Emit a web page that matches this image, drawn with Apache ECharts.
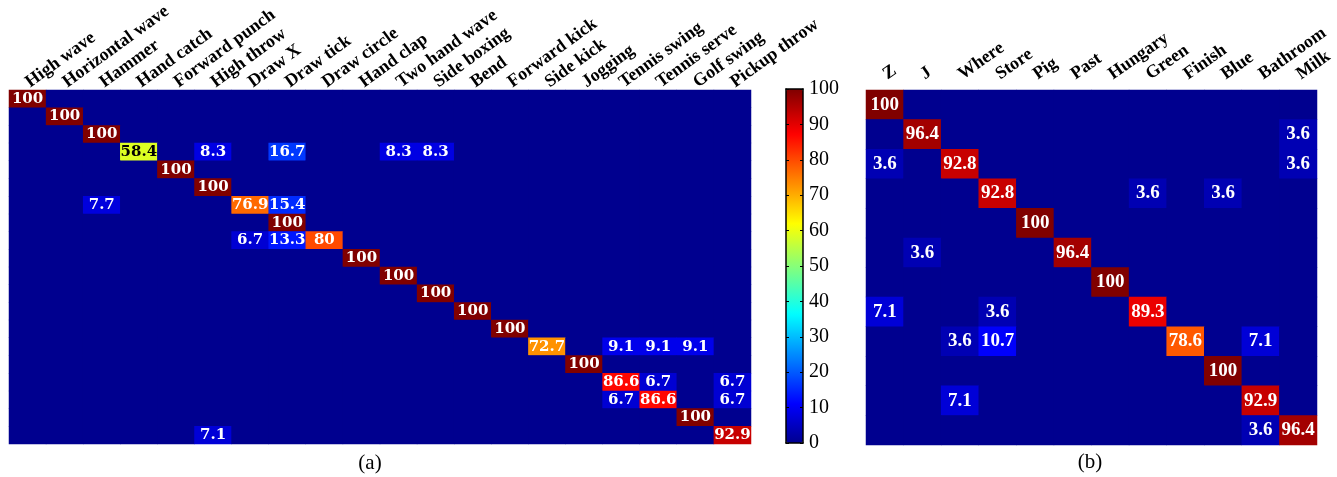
<!DOCTYPE html>
<html>
<head>
<meta charset="utf-8">
<script src="https://cdn.jsdelivr.net/npm/echarts@6/dist/echarts.min.js"></script>
<style>html,body{margin:0;padding:0;background:#fff;}#main{width:1337px;height:477px;}</style>
</head>
<body>
<div id="main"></div>
<script>
// ---- data ----
const actionsA = ['High wave','Horizontal wave','Hammer','Hand catch','Forward punch','High throw','Draw X','Draw tick','Draw circle','Hand clap','Two hand wave','Side boxing','Bend','Forward kick','Side kick','Jogging','Tennis swing','Tennis serve','Golf swing','Pickup throw'];
// rows = true class, columns = predicted class (percent)
const matrixA = [
  [100,0,0,0,0,0,0,0,0,0,0,0,0,0,0,0,0,0,0,0],
  [0,100,0,0,0,0,0,0,0,0,0,0,0,0,0,0,0,0,0,0],
  [0,0,100,0,0,0,0,0,0,0,0,0,0,0,0,0,0,0,0,0],
  [0,0,0,58.4,0,8.3,0,16.7,0,0,8.3,8.3,0,0,0,0,0,0,0,0],
  [0,0,0,0,100,0,0,0,0,0,0,0,0,0,0,0,0,0,0,0],
  [0,0,0,0,0,100,0,0,0,0,0,0,0,0,0,0,0,0,0,0],
  [0,0,7.7,0,0,0,76.9,15.4,0,0,0,0,0,0,0,0,0,0,0,0],
  [0,0,0,0,0,0,0,100,0,0,0,0,0,0,0,0,0,0,0,0],
  [0,0,0,0,0,0,6.7,13.3,80,0,0,0,0,0,0,0,0,0,0,0],
  [0,0,0,0,0,0,0,0,0,100,0,0,0,0,0,0,0,0,0,0],
  [0,0,0,0,0,0,0,0,0,0,100,0,0,0,0,0,0,0,0,0],
  [0,0,0,0,0,0,0,0,0,0,0,100,0,0,0,0,0,0,0,0],
  [0,0,0,0,0,0,0,0,0,0,0,0,100,0,0,0,0,0,0,0],
  [0,0,0,0,0,0,0,0,0,0,0,0,0,100,0,0,0,0,0,0],
  [0,0,0,0,0,0,0,0,0,0,0,0,0,0,72.7,0,9.1,9.1,9.1,0],
  [0,0,0,0,0,0,0,0,0,0,0,0,0,0,0,100,0,0,0,0],
  [0,0,0,0,0,0,0,0,0,0,0,0,0,0,0,0,86.6,6.7,0,6.7],
  [0,0,0,0,0,0,0,0,0,0,0,0,0,0,0,0,6.7,86.6,0,6.7],
  [0,0,0,0,0,0,0,0,0,0,0,0,0,0,0,0,0,0,100,0],
  [0,0,0,0,0,7.1,0,0,0,0,0,0,0,0,0,0,0,0,0,92.9]
];
const wordsB = ['Z','J','Where','Store','Pig','Past','Hungary','Green','Finish','Blue','Bathroom','Milk'];
const matrixB = [
  [100,0,0,0,0,0,0,0,0,0,0,0],
  [0,96.4,0,0,0,0,0,0,0,0,0,3.6],
  [3.6,0,92.8,0,0,0,0,0,0,0,0,3.6],
  [0,0,0,92.8,0,0,0,3.6,0,3.6,0,0],
  [0,0,0,0,100,0,0,0,0,0,0,0],
  [0,3.6,0,0,0,96.4,0,0,0,0,0,0],
  [0,0,0,0,0,0,100,0,0,0,0,0],
  [7.1,0,0,3.6,0,0,0,89.3,0,0,0,0],
  [0,0,3.6,10.7,0,0,0,0,78.6,0,7.1,0],
  [0,0,0,0,0,0,0,0,0,100,0,0],
  [0,0,7.1,0,0,0,0,0,0,0,92.9,0],
  [0,0,0,0,0,0,0,0,0,0,3.6,96.4]
];
const colorbarTicks = [0,10,20,30,40,50,60,70,80,90,100];
const captions = ['(a)','(b)'];

// ---- MATLAB jet(64) colormap ----
function jet(m){
  const n = Math.ceil(m/4), u = [];
  for (let i=1;i<=n;i++) u.push(i/n);
  for (let i=1;i<n;i++) u.push(1);
  for (let i=n;i>=1;i--) u.push(i/n);
  const off = Math.ceil(n/2) - (m%4===1?1:0);
  const c = []; for (let i=0;i<m;i++) c.push([0,0,0]);
  u.forEach((v,k)=>{
    const g = off+k+1, r = g+n, b = g-n;
    if (g>=1&&g<=m) c[g-1][1]=v;
    if (r>=1&&r<=m) c[r-1][0]=v;
    if (b>=1&&b<=m) c[b-1][2]=v;
  });
  return c.map(a=>'#'+a.map(x=>Math.round(x*255).toString(16).padStart(2,'0')).join(''));
}
const jetColors = jet(64);

function toData(mat){
  const out = [];
  mat.forEach((row,y)=>row.forEach((v,x)=>{
    out.push({value:[x,y,v], label:{color:(v>=45&&v<=66)?'#000':'#fff'}});
  }));
  return out;
}

const serif = 'Liberation Serif';
const chart = echarts.init(document.getElementById('main'), null, {renderer:'canvas'});

chart.setOption({
  animation:false,
  backgroundColor:'#fff',
  grid:[
    {left:9, top:90, width:742, height:354, show:true, backgroundColor:jetColors[0], borderWidth:0, containLabel:false, outerBoundsMode:'none'},
    {left:866, top:90, width:451, height:355, show:true, backgroundColor:jetColors[0], borderWidth:0, containLabel:false, outerBoundsMode:'none'},
    {left:786, top:89, width:17, height:354, containLabel:false, outerBoundsMode:'none'}
  ],
  xAxis:[
    {type:'category', gridIndex:0, position:'top', data:actionsA,
      axisLabel:{interval:0, rotate:-36, margin:6, fontFamily:serif, fontWeight:'bold', fontSize:18, color:'#000'},
      axisLine:{show:false}, axisTick:{show:false}, splitLine:{show:false}},
    {type:'category', gridIndex:1, position:'top', data:wordsB,
      axisLabel:{interval:0, rotate:-35, margin:14, fontFamily:serif, fontWeight:'bold', fontSize:18, color:'#000'},
      axisLine:{show:false}, axisTick:{show:false}, splitLine:{show:false}},
    {type:'value', gridIndex:2, min:0, max:1, position:'bottom', z:10, axisLine:{show:true, onZero:false, lineStyle:{color:'#000', width:1.5}}, axisTick:{show:false}, axisLabel:{show:false}, splitLine:{show:false}},
    {type:'value', gridIndex:2, min:0, max:1, position:'top', z:10, axisLine:{show:true, onZero:false, lineStyle:{color:'#000', width:1.5}}, axisTick:{show:false}, axisLabel:{show:false}, splitLine:{show:false}}
  ],
  yAxis:[
    {type:'category', gridIndex:0, data:actionsA, inverse:true, axisLabel:{show:false}, axisLine:{show:false}, axisTick:{show:false}, splitLine:{show:false}},
    {type:'category', gridIndex:1, data:wordsB, inverse:true, axisLabel:{show:false}, axisLine:{show:false}, axisTick:{show:false}, splitLine:{show:false}},
    {type:'value', gridIndex:2, min:colorbarTicks[0], max:colorbarTicks[colorbarTicks.length-1], interval:10, position:'right', z:10,
      axisLine:{show:true, onZero:false, lineStyle:{color:'#000', width:1.5}},
      axisTick:{show:true, inside:true, length:3, lineStyle:{color:'#000'}},
      axisLabel:{show:true, margin:6, fontFamily:serif, fontSize:20, color:'#000'}, splitLine:{show:false}},
    {type:'value', gridIndex:2, min:colorbarTicks[0], max:colorbarTicks[colorbarTicks.length-1], interval:10, position:'left', z:10,
      axisLine:{show:true, onZero:false, lineStyle:{color:'#000', width:1.5}},
      axisTick:{show:true, inside:true, length:3, lineStyle:{color:'#000'}},
      axisLabel:{show:false}, splitLine:{show:false}}
  ],
  visualMap:{
    type:'continuous', min:0, max:100, seriesIndex:[0,1], calculable:false, hoverLink:false,
    orient:'vertical', left:786, top:89, itemWidth:17, itemHeight:354, padding:0,
    text:null, showLabel:false, inRange:{color:jetColors}, z:4
  },
  series:[
    {type:'heatmap', xAxisIndex:0, yAxisIndex:0, data:toData(matrixA),
      label:{show:true, formatter:p=>p.value[2]?String(p.value[2]):'', fontFamily:'DejaVu Serif', fontWeight:'bold', fontSize:15},
      emphasis:{disabled:true}},
    {type:'heatmap', xAxisIndex:1, yAxisIndex:1, data:toData(matrixB),
      label:{show:true, formatter:p=>p.value[2]?String(p.value[2]):'', fontFamily:serif, fontWeight:'bold', fontSize:19},
      emphasis:{disabled:true}}
  ],
  graphic:[
    {type:'text', x:370, y:463, style:{text:captions[0], align:'center', verticalAlign:'middle', font:'21px "Liberation Serif"', fill:'#000'}},
    {type:'text', x:1090, y:462, style:{text:captions[1], align:'center', verticalAlign:'middle', font:'21px "Liberation Serif"', fill:'#000'}}
  ]
});
</script>
</body>
</html>
